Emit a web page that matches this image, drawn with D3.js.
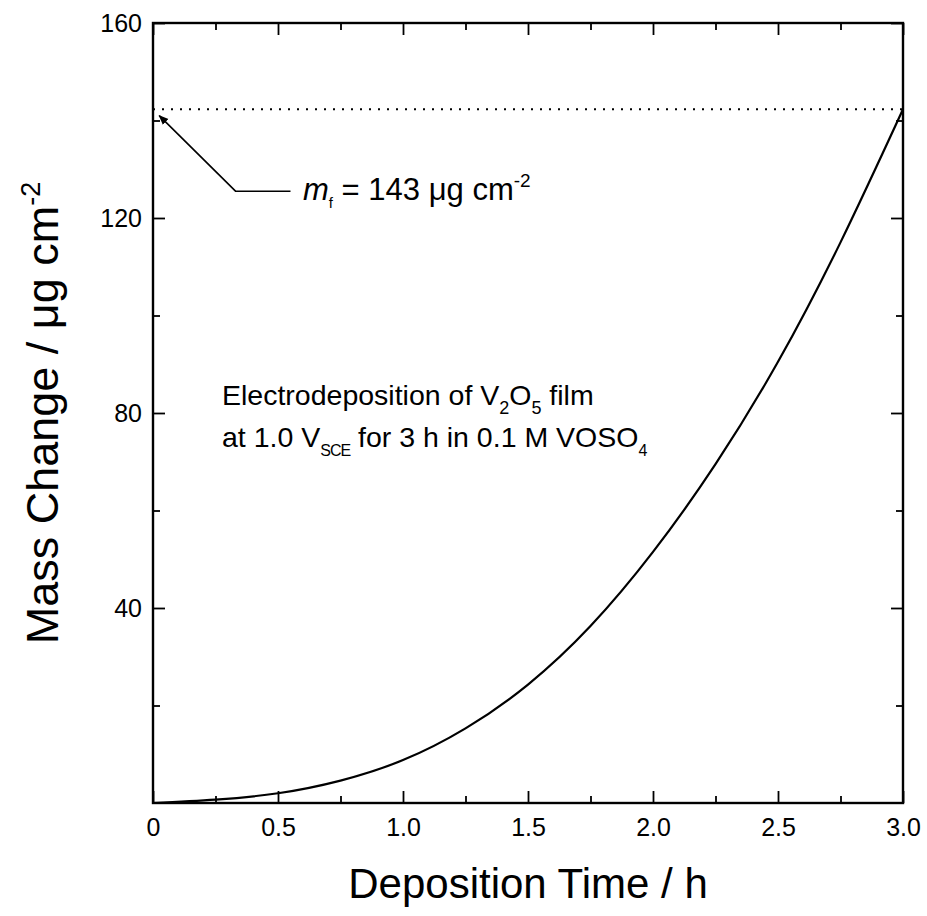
<!DOCTYPE html>
<html>
<head>
<meta charset="utf-8">
<script src="https://cdn.jsdelivr.net/npm/d3@7"></script>
<style>
  body { margin: 0; background: #fff; }
  text { font-family: "Liberation Sans", Arial, sans-serif; fill: #000; }
</style>
</head>
<body>
<div id="chart"></div>
<script>
// Data
const timeH = [0, 0.25, 0.5, 0.75, 1.0, 1.25, 1.5, 1.75, 2.0, 2.25, 2.5, 2.75, 3.0];
const massChange = [0, 0.7, 2.0, 4.6, 8.8, 15.3, 24.3, 36.3, 51.5, 69.5, 90.5, 115.0, 142.3];
const finalMass = 142.3;
const xMajorTicks = [0, 0.5, 1.0, 1.5, 2.0, 2.5, 3.0];
const xMinorTicks = [0.25, 0.75, 1.25, 1.75, 2.25, 2.75];
const yMajorTicks = [40, 80, 120, 160];
const yMinorTicks = [20, 60, 100, 140];

const width = 927, height = 916;
const margin = { top: 23, right: 24, bottom: 113, left: 153 };
const iw = width - margin.left - margin.right;
const ih = height - margin.top - margin.bottom;

const svg = d3.select("#chart").append("svg")
  .attr("width", width)
  .attr("height", height);

const g = svg.append("g")
  .attr("transform", `translate(${margin.left},${margin.top})`);

const x = d3.scaleLinear().domain([0, 3]).range([0, iw]);
const y = d3.scaleLinear().domain([0, 160]).range([ih, 0]);

// axes: ticks point inward
function styleAxis(sel) {
  sel.select(".domain").remove();
  sel.selectAll("line").attr("stroke", "#000").attr("stroke-width", 1.8);
  sel.selectAll("text").style("font-size", "25px").attr("fill", "#000");
}

g.append("g")
  .attr("transform", `translate(0,${ih})`)
  .call(d3.axisBottom(x).tickValues(xMajorTicks).tickSize(-12).tickPadding(15)
    .tickFormat(d => d === 0 ? "0" : d3.format(".1f")(d)))
  .call(styleAxis);
g.append("g")
  .attr("transform", `translate(0,${ih})`)
  .call(d3.axisBottom(x).tickValues(xMinorTicks).tickSize(-7).tickFormat(""))
  .call(styleAxis);
g.append("g")
  .call(d3.axisTop(x).tickValues(xMajorTicks).tickSize(-12).tickFormat(""))
  .call(styleAxis);
g.append("g")
  .call(d3.axisTop(x).tickValues(xMinorTicks).tickSize(-7).tickFormat(""))
  .call(styleAxis);

g.append("g")
  .call(d3.axisLeft(y).tickValues(yMajorTicks).tickSize(-12).tickPadding(11)
    .tickFormat(d3.format("d")))
  .call(styleAxis);
g.append("g")
  .call(d3.axisLeft(y).tickValues(yMinorTicks).tickSize(-7).tickFormat(""))
  .call(styleAxis);
g.append("g")
  .attr("transform", `translate(${iw},0)`)
  .call(d3.axisRight(y).tickValues(yMajorTicks).tickSize(-12).tickFormat(""))
  .call(styleAxis);
g.append("g")
  .attr("transform", `translate(${iw},0)`)
  .call(d3.axisRight(y).tickValues(yMinorTicks).tickSize(-7).tickFormat(""))
  .call(styleAxis);

// frame
g.append("rect")
  .attr("width", iw).attr("height", ih)
  .attr("fill", "none").attr("stroke", "#000").attr("stroke-width", 2.4);

// dotted line at final mass
g.append("line")
  .attr("x1", x(0)).attr("x2", x(3))
  .attr("y1", y(finalMass)).attr("y2", y(finalMass))
  .attr("stroke", "#000").attr("stroke-width", 2)
  .attr("stroke-dasharray", "2,7");

// curve
const line = d3.line()
  .x((d, i) => x(timeH[i]))
  .y(d => y(d))
  .curve(d3.curveNatural);

g.append("path")
  .datum(massChange)
  .attr("d", line)
  .attr("fill", "none")
  .attr("stroke", "#000")
  .attr("stroke-width", 2.2);

// leader line with arrow for m_f
svg.append("defs").append("marker")
  .attr("id", "arr")
  .attr("viewBox", "0 0 10 10")
  .attr("refX", 9).attr("refY", 5)
  .attr("markerWidth", 10).attr("markerHeight", 10)
  .attr("markerUnits", "userSpaceOnUse")
  .attr("orient", "auto")
  .append("path").attr("d", "M0,1 L10,5 L0,9 Z").attr("fill", "#000");

const leader = [[0.55, 125.5], [0.33, 125.5], [0.025, 141]];
g.append("path")
  .attr("d", d3.line().x(d => x(d[0])).y(d => y(d[1]))(leader))
  .attr("fill", "none").attr("stroke", "#000").attr("stroke-width", 1.6)
  .attr("marker-end", "url(#arr)");

const mf = g.append("text")
  .attr("x", x(0.6)).attr("y", y(123.7))
  .style("font-size", "31px");
mf.append("tspan").text("m").style("font-style", "italic");
mf.append("tspan").text("f").style("font-size", "15px").attr("dy", 8);
mf.append("tspan").text(" = 143 μg cm").attr("dy", -8);
mf.append("tspan").text("-2").style("font-size", "19px").attr("dy", -13);

// description
const d1 = g.append("text")
  .attr("x", x(0.276)).attr("y", y(81.6))
  .style("font-size", "28.5px");
d1.append("tspan").text("Electrodeposition of V");
d1.append("tspan").text("2").style("font-size", "18px").attr("dy", 9);
d1.append("tspan").text("O").attr("dy", -9);
d1.append("tspan").text("5").style("font-size", "18px").attr("dy", 9);
d1.append("tspan").text(" film").attr("dy", -9);

const d2 = g.append("text")
  .attr("x", x(0.276)).attr("y", y(73.0))
  .style("font-size", "28.5px");
d2.append("tspan").text("at 1.0 V");
d2.append("tspan").text("SCE").style("font-size", "16px").style("letter-spacing", "-1px").attr("dy", 9);
d2.append("tspan").text(" for 3 h in 0.1 M VOSO").attr("dy", -9);
d2.append("tspan").text("4").style("font-size", "16px").attr("dy", 9);

// axis titles
svg.append("text")
  .attr("x", margin.left + iw / 2).attr("y", 898)
  .attr("text-anchor", "middle")
  .style("font-size", "42px")
  .text("Deposition Time / h");

const yt = svg.append("text")
  .attr("transform", `translate(58,${margin.top + ih / 2}) rotate(-90)`)
  .attr("text-anchor", "middle")
  .style("font-size", "45px");
yt.append("tspan").text("Mass Change / μg cm");
yt.append("tspan").text("-2").style("font-size", "27px").attr("dy", -18);
</script>
</body>
</html>
